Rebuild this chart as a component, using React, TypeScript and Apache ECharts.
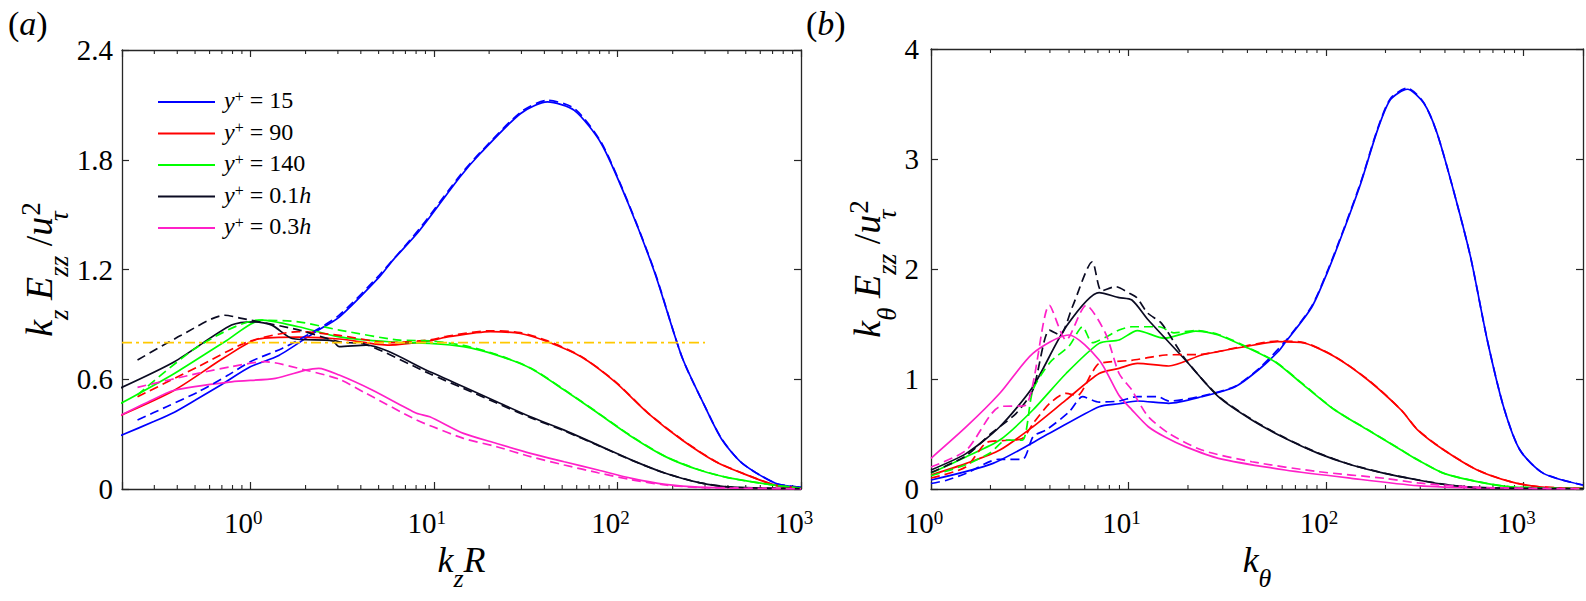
import * as echarts from "echarts";
import { useEffect, useRef } from "react";

const FONT = "Liberation Serif";

// legend entries (y+ locations) and their colours
const locations = ["15", "90", "140", "0.1h", "0.3h"];
const colors = ["#0000ff", "#ff0000", "#00ff00", "#0b0b22", "#ff20c8"];

// ---- panel (a): k_z E_zz / u_tau^2 against k_z R ----
const aBlue = [[0.194, 0.29], [0.3, 0.37], [0.386, 0.42], [0.5, 0.485], [0.695, 0.57], [1.0, 0.668], [1.43, 0.73], [2.27, 0.86], [3.05, 0.94], [5.05, 1.16], [5.97, 1.25], [8.38, 1.415], [13.9, 1.707], [17.9, 1.834], [29.7, 2.053], [41.6, 2.116], [58.2, 2.07], [81.6, 1.889], [114.5, 1.561], [160, 1.18], [225, 0.72], [300, 0.45], [372, 0.268], [479, 0.14], [731, 0.03], [1000, 0.01]];
const aBlueDash = [[0.243, 0.377], [0.35, 0.45], [0.518, 0.53], [0.75, 0.62], [1.0, 0.696], [1.5, 0.77], [2.2, 0.86], [3.05, 0.95], [5.05, 1.17], [8.38, 1.425], [13.9, 1.715], [17.9, 1.84], [29.7, 2.06], [41.6, 2.125], [58.2, 2.08], [81.6, 1.895], [114.5, 1.565], [160, 1.185], [225, 0.72], [300, 0.45], [372, 0.27], [479, 0.14], [731, 0.03], [1000, 0.01]];
const aRed = [[0.194, 0.4], [0.386, 0.54], [0.726, 0.72], [1.106, 0.82], [1.83, 0.83], [3.05, 0.82], [5.73, 0.787], [9.5, 0.81], [11.7, 0.83], [20.3, 0.86], [29.6, 0.85], [41.6, 0.805], [63.4, 0.723], [96.7, 0.587], [147, 0.414], [225, 0.268], [343, 0.149], [479, 0.086], [731, 0.02], [1000, 0.005]];
const aRedDash = [[0.243, 0.504], [0.518, 0.668], [0.975, 0.805], [1.83, 0.86], [3.05, 0.84], [5.73, 0.8], [9.5, 0.815], [11.7, 0.835], [20.3, 0.865], [29.6, 0.855], [41.6, 0.81], [63.4, 0.725], [96.7, 0.59], [147, 0.415], [225, 0.27], [343, 0.15], [479, 0.087], [731, 0.02], [1000, 0.005]];
const aGreen = [[0.194, 0.464], [0.386, 0.632], [0.726, 0.805], [1.154, 0.923], [1.83, 0.887], [3.05, 0.832], [5.73, 0.805], [9.5, 0.796], [14.5, 0.778], [22, 0.732], [33.6, 0.66], [51.3, 0.541], [78.4, 0.414], [119.6, 0.286], [182.6, 0.177], [278.7, 0.104], [420, 0.058], [731, 0.02], [1000, 0.005]];
const aGreenDash = [[0.243, 0.514], [0.518, 0.778], [1.106, 0.923], [1.83, 0.914], [3.05, 0.869], [6.5, 0.814], [9.5, 0.81], [14.5, 0.785], [22, 0.735], [33.6, 0.662], [51.3, 0.543], [78.4, 0.416], [119.6, 0.288], [182.6, 0.178], [278.7, 0.105], [420, 0.058], [731, 0.02], [1000, 0.005]];
const aBlack = [[0.194, 0.55], [0.386, 0.696], [0.79, 0.896], [1.06, 0.914], [1.31, 0.896], [1.69, 0.823], [2.8, 0.81], [3.05, 0.778], [4.27, 0.787], [9.5, 0.641], [14.5, 0.559], [22, 0.477], [33.6, 0.395], [51.3, 0.322], [78.4, 0.24], [119.6, 0.158], [182.6, 0.086], [278.7, 0.035], [420, 0.01], [1000, 0.002]];
const aBlackDash = [[0.243, 0.705], [0.42, 0.84], [0.726, 0.95], [0.896, 0.933], [1.83, 0.87], [3.05, 0.805], [4.27, 0.79], [9.5, 0.63], [14.5, 0.55], [22, 0.47], [33.6, 0.39], [51.3, 0.318], [78.4, 0.238], [119.6, 0.157], [182.6, 0.086], [278.7, 0.035], [420, 0.01], [1000, 0.002]];
const aMagenta = [[0.194, 0.4], [0.27, 0.47], [0.386, 0.54], [0.79, 0.586], [1.37, 0.605], [2.0, 0.65], [2.36, 0.66], [3.05, 0.623], [4.64, 0.54], [8.05, 0.414], [9.5, 0.395], [14.5, 0.304], [22, 0.249], [33.6, 0.195], [51.3, 0.149], [78.4, 0.104], [119.6, 0.058], [182.6, 0.025], [278.7, 0.01], [1000, 0.001]];
const aMagentaDash = [[0.243, 0.556], [0.518, 0.632], [0.8, 0.67], [1.2, 0.696], [2.0, 0.65], [3.05, 0.6], [4.27, 0.523], [8.05, 0.377], [9.9, 0.34], [14.5, 0.277], [22, 0.231], [33.6, 0.177], [51.3, 0.131], [78.4, 0.089], [119.6, 0.05], [182.6, 0.022], [278.7, 0.008], [1000, 0.001]];
const aPlateau = [[0.2, 0.8], [300, 0.8]];

// ---- panel (b): k_theta E_zz / u_tau^2 against k_theta ----
const bBlue = [[1, 0.082], [2.06, 0.233], [3.98, 0.506], [7.1, 0.748], [8.96, 0.775], [11.1, 0.8], [16, 0.779], [23.5, 0.839], [34.7, 0.93], [45.4, 1.082], [57.3, 1.25], [62, 1.33], [84.5, 1.65], [101.6, 1.97], [121, 2.32], [150, 2.78], [182, 3.26], [212, 3.54], [258, 3.634], [313, 3.506], [365, 3.234], [441, 2.72], [539, 2.11], [655, 1.355], [792, 0.748], [959, 0.354], [1261, 0.142], [2000, 0.036]];
const bBlueDash = [[1, 0.05], [1.2, 0.08], [1.51, 0.143], [2.2, 0.27], [2.9, 0.27], [3.3, 0.48], [3.82, 0.536], [5.0, 0.7], [5.85, 0.839], [7.1, 0.79], [8.96, 0.8], [11.1, 0.84], [14, 0.84], [16, 0.8], [23.5, 0.845], [34.7, 0.935], [45.4, 1.09], [62, 1.34], [84.5, 1.66], [101.6, 1.98], [121, 2.33], [150, 2.79], [182, 3.27], [212, 3.55], [258, 3.645], [313, 3.51], [365, 3.234], [441, 2.72], [539, 2.11], [655, 1.355], [792, 0.748], [959, 0.354], [1261, 0.142], [2000, 0.036]];
const bRed = [[1, 0.127], [1.51, 0.233], [2.23, 0.354], [3.28, 0.566], [4.83, 0.81], [7.1, 1.05], [8.96, 1.097], [11.1, 1.142], [16, 1.118], [23.5, 1.218], [38.9, 1.294], [57, 1.339], [78, 1.325], [110.7, 1.203], [163, 0.991], [240, 0.718], [291.5, 0.536], [395, 0.354], [582, 0.173], [857, 0.067], [1200, 0.02], [2000, 0.005]];
const bRedDash = [[1, 0.1], [1.5, 0.2], [1.9, 0.42], [2.3, 0.44], [2.9, 0.46], [3.3, 0.6], [4.0, 0.78], [4.83, 0.87], [5.5, 0.85], [6.5, 1.05], [7.1, 1.14], [10.4, 1.17], [12.2, 1.19], [15.4, 1.218], [23.5, 1.225], [38.9, 1.3], [57, 1.345], [78, 1.33], [110.7, 1.205], [163, 0.995], [240, 0.72], [291.5, 0.538], [395, 0.355], [582, 0.174], [857, 0.067], [1200, 0.02], [2000, 0.005]];
const bGreen = [[1, 0.145], [1.51, 0.294], [2.23, 0.445], [3.28, 0.718], [4.83, 1.05], [7.1, 1.324], [8.96, 1.354], [11.1, 1.44], [15.2, 1.37], [21.9, 1.436], [28.5, 1.4], [38.9, 1.294], [55.1, 1.157], [75.2, 0.961], [110.7, 0.718], [163, 0.536], [240, 0.354], [291.5, 0.264], [395, 0.142], [582, 0.067], [857, 0.02], [2000, 0.003]];
const bGreenDash = [[1, 0.12], [1.5, 0.22], [2.0, 0.33], [2.4, 0.445], [2.9, 0.445], [3.28, 0.9], [4.0, 1.15], [5.0, 1.3], [5.85, 1.475], [6.56, 1.33], [7.65, 1.38], [8.96, 1.445], [10.4, 1.475], [14.3, 1.475], [17, 1.42], [21.9, 1.44], [28.5, 1.405], [38.9, 1.3], [55.1, 1.16], [75.2, 0.965], [110.7, 0.72], [163, 0.538], [240, 0.356], [291.5, 0.265], [395, 0.143], [582, 0.068], [857, 0.02], [2000, 0.003]];
const bBlack = [[1, 0.173], [1.51, 0.324], [2.23, 0.566], [3.28, 0.93], [4.83, 1.475], [7.1, 1.785], [8.96, 1.74], [10.4, 1.718], [12.6, 1.536], [19.4, 1.173], [28.5, 0.839], [42.1, 0.627], [62, 0.461], [91.3, 0.324], [134.5, 0.218], [198, 0.142], [291.5, 0.082], [420, 0.036], [600, 0.012], [2000, 0.002]];
const bBlackDash = [[1, 0.15], [1.5, 0.3], [2.0, 0.5], [2.7, 0.688], [3.28, 0.9], [3.98, 1.445], [4.5, 1.4], [5.2, 1.657], [6.56, 2.066], [7.3, 1.8], [8.6, 1.84], [10.1, 1.78], [11, 1.74], [12.5, 1.6], [14.7, 1.506], [19.4, 1.18], [28.5, 0.845], [42.1, 0.632], [62, 0.465], [91.3, 0.327], [134.5, 0.22], [198, 0.143], [291.5, 0.083], [420, 0.036], [600, 0.012], [2000, 0.002]];
const bMagenta = [[1, 0.279], [1.51, 0.566], [2.23, 0.87], [3.28, 1.233], [4.97, 1.4], [7.1, 1.173], [8.96, 0.85], [10.4, 0.72], [12.6, 0.566], [15.4, 0.47], [19.4, 0.385], [28.5, 0.279], [62, 0.173], [134.5, 0.097], [291.5, 0.03], [600, 0.008], [2000, 0.001]];
const bMagentaDash = [[1, 0.2], [1.51, 0.354], [2.23, 0.748], [3.0, 0.76], [3.98, 1.67], [4.83, 1.354], [6.1, 1.67], [7.65, 1.415], [8.96, 1.05], [10.4, 0.9], [11.1, 0.81], [12.6, 0.657], [16, 0.506], [23.5, 0.354], [42.1, 0.248], [91.3, 0.158], [198, 0.097], [291.5, 0.055], [600, 0.015], [2000, 0.002]];

// minor tick positions on the log axes
const minorTicksA = [0.3, 0.4, 0.5, 0.6, 0.7, 0.8, 0.9, 2, 3, 4, 5, 6, 7, 8, 9, 20, 30, 40, 50, 60, 70, 80, 90, 200, 300, 400, 500, 600, 700, 800, 900];
const minorTicksB = [2, 3, 4, 5, 6, 7, 8, 9, 20, 30, 40, 50, 60, 70, 80, 90, 200, 300, 400, 500, 600, 700, 800, 900];

const AXIS = "#262626";

const tickLabelRich = {
  b: { fontFamily: FONT, fontSize: 29, lineHeight: 36, verticalAlign: "top", color: "#000" },
  s: { fontFamily: FONT, fontSize: 19, lineHeight: 16, verticalAlign: "top", color: "#000" },
};

const titleRich = {
  m: { fontFamily: FONT, fontStyle: "italic", fontSize: 38, lineHeight: 44, padding: [10, 0, 0, 0], verticalAlign: "top", color: "#000" },
  r: { fontFamily: FONT, fontSize: 38, lineHeight: 44, padding: [10, 0, 0, 0], verticalAlign: "top", color: "#000" },
  sb: { fontFamily: FONT, fontStyle: "italic", fontSize: 27, lineHeight: 26, padding: [36, 0, 0, 0], verticalAlign: "top", color: "#000" },
  sbw: { fontFamily: FONT, fontStyle: "italic", fontSize: 27, lineHeight: 26, width: 1, padding: [36, 0, 0, 0], verticalAlign: "top", color: "#000" },
  sp: { fontFamily: FONT, fontSize: 27, lineHeight: 26, padding: [8, 0, 0, 0], verticalAlign: "top", color: "#000" },
};

const xTitleRich = {
  m: { fontFamily: FONT, fontStyle: "italic", fontSize: 36, lineHeight: 40, verticalAlign: "top", color: "#000" },
  sb: { fontFamily: FONT, fontStyle: "italic", fontSize: 26, lineHeight: 26, padding: [24, 0, 0, 0], verticalAlign: "top", color: "#000" },
};

function logLabel(v: number) {
  const e = Math.log10(v);
  if (Math.abs(e - Math.round(e)) > 1e-6) return "";
  return `{b|10}{s|${Math.round(e)}}`;
}

function xAxes(grid: number, min: number, max: number, name: string) {
  const line = { show: true, onZero: false, lineStyle: { color: AXIS, width: 1.3 } };
  const tick = { show: true, inside: true, length: 7, interval: 0, lineStyle: { color: AXIS, width: 1.2 } };
  return [
    {
      type: "log", gridIndex: grid, min, max, logBase: 10,
      axisLine: line, axisTick: tick, splitLine: { show: false },
      axisLabel: { interval: 0, margin: 19, padding: [0, 14, 0, 0], formatter: logLabel, rich: tickLabelRich },
      name, nameLocation: "middle", nameGap: 41,
      nameTextStyle: { rich: xTitleRich },
    },
    {
      type: "log", gridIndex: grid, position: "top", min, max, logBase: 10,
      axisLine: line, axisTick: tick, splitLine: { show: false }, axisLabel: { show: false },
    },
  ];
}

function yAxes(grid: number, max: number, interval: number, digits: number, name: string, gap: number, margin: number) {
  const line = { show: true, onZero: false, lineStyle: { color: AXIS, width: 1.3 } };
  const tick = { show: true, inside: true, length: 7, lineStyle: { color: AXIS, width: 1.2 } };
  return [
    {
      type: "value", gridIndex: grid, min: 0, max, interval,
      axisLine: line, axisTick: tick, splitLine: { show: false },
      axisLabel: {
        margin, fontFamily: FONT, fontSize: 29, color: "#000",
        formatter: (v: number) => (v === 0 ? "0" : v.toFixed(digits)),
      },
      name, nameLocation: "middle", nameGap: gap, nameRotate: 90,
      nameTextStyle: { rich: titleRich },
    },
    {
      type: "value", gridIndex: grid, position: "right", min: 0, max, interval,
      axisLine: line, axisTick: tick, splitLine: { show: false }, axisLabel: { show: false },
    },
  ];
}

function curve(name: string, data: number[][], color: string, dashed: boolean, axis: number) {
  return {
    name, type: "line", xAxisIndex: axis, yAxisIndex: axis, data,
    symbol: "none", showSymbol: false, smooth: 0.25, z: dashed ? 3 : 2,
    itemStyle: { color },
    lineStyle: { color, width: 1.7, type: dashed ? [9, 5] : "solid" },
  };
}

function minorTicks(values: number[], axis: number) {
  return {
    type: "custom", xAxisIndex: axis, yAxisIndex: axis, silent: true, clip: false,
    data: values.map((v) => [v, 0]),
    renderItem: (params: any, api: any) => {
      const x = api.coord([api.value(0), 0])[0];
      const cs = params.coordSys;
      const bottom = cs.y + cs.height;
      const style = { stroke: AXIS, lineWidth: 1.1 };
      return {
        type: "group",
        children: [
          { type: "line", shape: { x1: x, y1: bottom, x2: x, y2: bottom - 4 }, style },
          { type: "line", shape: { x1: x, y1: cs.y, x2: x, y2: cs.y + 4 }, style },
        ],
      };
    },
  };
}

function legendText(name: string) {
  const h = name.endsWith("h");
  const num = h ? name.slice(0, -1) : name;
  return `{i|y}{s|+}{n| = ${num}}` + (h ? "{i|h}" : "");
}

export default function App() {
  const ref = useRef<HTMLDivElement | null>(null);

  useEffect(() => {
    if (!ref.current) return;
    const chart = echarts.init(ref.current, null, { renderer: "svg" });

    const aSets = [[aBlue, aBlueDash], [aRed, aRedDash], [aGreen, aGreenDash], [aBlack, aBlackDash], [aMagenta, aMagentaDash]];
    const bSets = [[bBlue, bBlueDash], [bRed, bRedDash], [bGreen, bGreenDash], [bBlack, bBlackDash], [bMagenta, bMagentaDash]];

    const series: any[] = [];
    aSets.forEach(([solid, dashed], i) => {
      series.push(curve(locations[i], solid, colors[i], false, 0));
      series.push(curve(`${locations[i]} (a) dashed`, dashed, colors[i], true, 0));
    });
    series.push({
      name: "plateau", type: "line", xAxisIndex: 0, yAxisIndex: 0, data: aPlateau,
      symbol: "none", z: 4, itemStyle: { color: "#ffc800" },
      lineStyle: { color: "#ffc800", width: 1.8, type: [10, 4, 3, 4] },
    });
    bSets.forEach(([solid, dashed], i) => {
      series.push(curve(locations[i], solid, colors[i], false, 2));
      series.push(curve(`${locations[i]} (b) dashed`, dashed, colors[i], true, 2));
    });
    series.push(minorTicks(minorTicksA, 0));
    series.push(minorTicks(minorTicksB, 2));

    chart.setOption({
      animation: false,
      backgroundColor: "#ffffff",
      textStyle: { fontFamily: FONT },
      grid: [
        { left: 122, top: 50, width: 679, height: 439 },
        { left: 931, top: 49, width: 654, height: 440 },
      ],
      xAxis: [...xAxes(0, 0.2, 1000, "{m|k}{sb|z}{m|R}"), ...xAxes(1, 1, 2000, "{m|k}{sb|θ}")],
      yAxis: [
        ...yAxes(0, 2.4, 0.6, 1, "{m|k}{sb|z}{m| E}{sb|zz}{r| /}{m|u}{sbw|τ}{sp|2}", 62, 9),
        ...yAxes(1, 4, 1, 0, "{m|k}{sb|θ}{m| E}{sb|zz}{r| /}{m|u}{sbw|τ}{sp|2}", 43, 12),
      ],
      legend: {
        data: locations,
        orient: "vertical",
        left: 158,
        top: 88,
        padding: 0,
        itemGap: 7.5,
        itemWidth: 57,
        itemHeight: 2,
        icon: "rect",
        selectedMode: false,
        formatter: legendText,
        textStyle: {
          fontFamily: FONT, fontSize: 24, color: "#000", padding: [0, 0, 0, 4],
          rich: {
            i: { fontFamily: FONT, fontStyle: "italic", fontSize: 24, lineHeight: 28, verticalAlign: "top", color: "#000" },
            n: { fontFamily: FONT, fontSize: 24, lineHeight: 28, verticalAlign: "top", color: "#000" },
            s: { fontFamily: FONT, fontSize: 16, lineHeight: 16, verticalAlign: "top", color: "#000" },
          },
        },
      },
      graphic: [
        {
          type: "text", left: 8, top: 6,
          style: {
            text: "{n|(}{i|a}{n|)}",
            rich: {
              n: { fontFamily: FONT, fontSize: 34, fill: "#000" },
              i: { fontFamily: FONT, fontSize: 34, fontStyle: "italic", fill: "#000" },
            },
          },
        },
        {
          type: "text", left: 806, top: 6,
          style: {
            text: "{n|(}{i|b}{n|)}",
            rich: {
              n: { fontFamily: FONT, fontSize: 34, fill: "#000" },
              i: { fontFamily: FONT, fontSize: 34, fontStyle: "italic", fill: "#000" },
            },
          },
        },
      ],
      series,
    });

    return () => chart.dispose();
  }, []);

  return (
    <div
      ref={ref}
      style={{ position: "fixed", left: 0, top: 0, width: 1586, height: 601, background: "#fff" }}
    />
  );
}
